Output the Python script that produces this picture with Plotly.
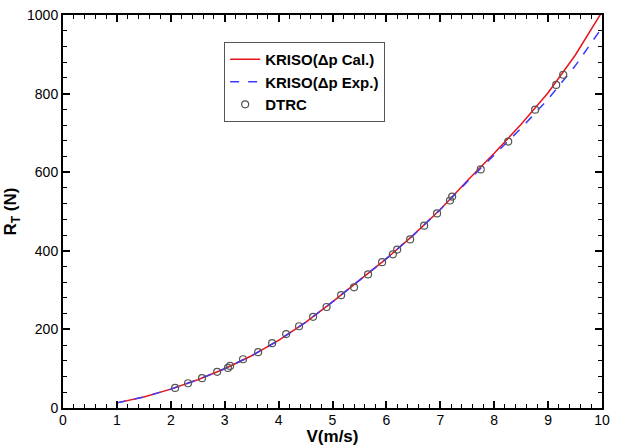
import plotly.graph_objects as go

# Line data
v_line = [1, 1.5, 2, 2.5, 3, 3.5, 4, 4.5, 5, 5.5, 6, 6.5, 7, 7.5, 8, 8.5, 9, 9.5, 10]
r_cal = [13, 28, 48, 72, 100, 133, 172, 218, 270, 326, 380, 440, 505, 578, 648, 722, 802, 897, 1008]
r_exp = [13, 28, 48, 72, 100, 133, 172, 218, 270, 326, 380, 440, 505, 576, 644, 712, 786, 870, 968]

# DTRC experiment points
v_dtrc = [2.08, 2.32, 2.58, 2.86, 3.06, 3.10, 3.34, 3.62, 3.88, 4.14, 4.38, 4.64, 4.89,
          5.16, 5.40, 5.66, 5.92, 6.12, 6.20, 6.44, 6.70, 6.94, 7.18, 7.22, 7.75, 8.26,
          8.76, 9.15, 9.28]
r_dtrc = [51, 63, 76, 92, 102, 107, 124, 142, 165, 188, 208, 232, 257,
          287, 307, 340, 371, 391, 403, 429, 464, 495, 528, 538, 607, 678,
          759, 822, 848]

fig = go.Figure()
fig.add_trace(go.Scatter(x=v_line, y=r_cal, mode="lines", name="<b>KRISO(\u0394p Cal.)</b>",
                         line=dict(color="#e8141c", width=1.5)))
fig.add_trace(go.Scatter(x=v_line, y=r_exp, mode="lines", name="<b>KRISO(\u0394p Exp.)</b>",
                         line=dict(color="#3a3aff", width=1.5, dash="dash")))
fig.add_trace(go.Scatter(x=v_dtrc, y=r_dtrc, mode="markers", name="<b>DTRC</b>",
                         marker=dict(symbol="circle-open", size=7, color="#555555",
                                     line=dict(width=1.2))))

axis_common = dict(
    showgrid=False, zeroline=False, showline=True, linecolor="black", linewidth=2,
    mirror="allticks", ticks="inside", ticklen=7, tickwidth=2, tickcolor="black",
    automargin=False,
    tickfont=dict(family="Arial, Liberation Sans", size=14, color="black"),
)

fig.update_xaxes(range=[0, 10], dtick=1, tick0=0, ticklabelstandoff=-2,
                 minor=dict(dtick=0.2, ticks="inside", ticklen=4, tickwidth=1, tickcolor="black"),
                 title=dict(text="<b>V(m/s)</b>", font=dict(family="Arial, Liberation Sans", size=17, color="black"),
                            standoff=0),
                 **axis_common)
fig.update_yaxes(range=[0, 1000], dtick=200, tick0=0,
                 minor=dict(dtick=40, ticks="inside", ticklen=4, tickwidth=1, tickcolor="black"),
                 title=dict(text="<b>R<sub>T</sub> (N)</b>", font=dict(family="Arial, Liberation Sans", size=17, color="black"),
                            standoff=6),
                 **axis_common)

fig.update_layout(
    width=617, height=446,
    margin=dict(l=63, r=15, t=15, b=38),
    plot_bgcolor="white", paper_bgcolor="white",
    legend=dict(x=0.299, y=0.931, xanchor="left", yanchor="top",
                bordercolor="#555555", borderwidth=1, bgcolor="white",
                font=dict(family="Arial, Liberation Sans", size=15, color="black"),
                tracegroupgap=0, itemwidth=30),
)

fig.write_html("out.html")
